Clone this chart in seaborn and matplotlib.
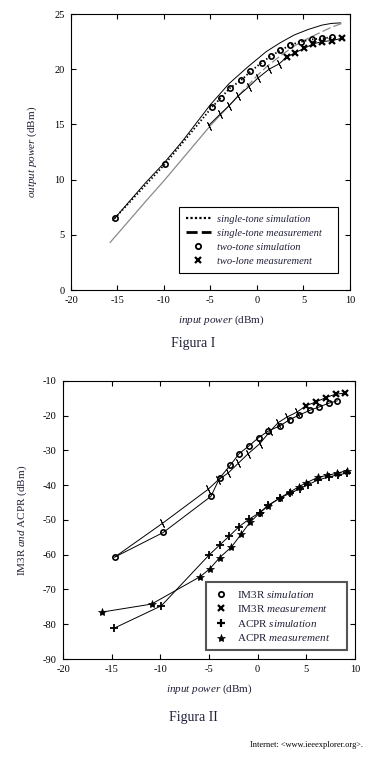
import matplotlib
matplotlib.use('Agg')
import matplotlib.pyplot as plt
from matplotlib.lines import Line2D
import seaborn as sns

# ==============================================================================
# DATOS - Figura I (potencia de salida vs potencia de entrada)
# ==============================================================================
pin_upper = [-15.5, -12, -10, -8, -5, -3, -1, 1, 2.5, 4, 5.5, 7, 8, 9]
pout_upper = [6.3, 9.7, 11.5, 13.5, 16.8, 18.7, 20.2, 21.6, 22.4, 23.1, 23.6, 24.0, 24.15, 24.2]

pin_gray = [-15.8, -12, -10, -8, -6, -5, -4, -3, -2, -1, 0, 1, 2.5, 4, 5.5, 7, 8, 9.3]
pout_gray = [4.3, 8.0, 9.9, 11.9, 13.9, 14.9, 15.8, 16.7, 17.6, 18.5, 19.4, 20.2, 21.2, 22.1, 22.8, 23.4, 23.8, 24.2]
GRAY_DASH_FROM = 8   # desde aquí la curva gris es discontinua

pin_tt_sim = [-15.3, -9.9, -4.8, -3.9, -2.9, -1.7, -0.7, 0.5, 1.5, 2.5, 3.6, 4.7, 5.9, 7.0, 8.1]
pout_tt_sim = [6.5, 11.4, 16.6, 17.4, 18.3, 19.0, 19.8, 20.6, 21.2, 21.7, 22.2, 22.5, 22.7, 22.8, 22.9]

pin_tt_meas = [-5.2, -4.0, -3.0, -2.0, -0.9, 0.1, 1.3, 2.4, 3.2, 4.1, 5.1, 6.05, 7.0, 8.1, 9.1]
pout_tt_meas = [14.9, 15.9, 16.7, 17.6, 18.4, 19.2, 20.0, 20.5, 21.1, 21.5, 21.9, 22.3, 22.5, 22.6, 22.8]
TT_BOLD_FROM = 8

# ==============================================================================
# DATOS - Figura II (IM3R y ACPR)
# ==============================================================================
pin_im3_sim = [-14.7, -9.7, -4.8, -3.9, -2.8, -1.9, -0.9, 0.1, 1.1, 2.3, 3.3, 4.2, 5.4, 6.3, 7.3, 8.2]
im3_sim = [-60.7, -53.6, -43.2, -37.9, -34.2, -30.9, -28.7, -26.3, -24.4, -22.9, -21.1, -19.9, -18.4, -17.5, -16.4, -15.7]

pin_im3_meas = [-14.7, -9.8, -5.1, -4.1, -3.0, -2.0, -1.0, 0.2, 1.3, 2.1, 3.0, 4.0, 5.0, 6.0, 7.0, 8.0, 9.0]
im3_meas = [-60.7, -51.0, -41.2, -38.6, -36.4, -33.7, -31.0, -28.1, -24.4, -22.0, -20.4, -19.0, -17.1, -16.0, -14.8, -13.8, -13.5]
IM3_BOLD_FROM = 12

pin_acpr_sim = [-14.8, -9.9, -5.0, -3.9, -2.9, -1.9, -0.9, 0.2, 1.1, 2.3, 3.3, 4.3, 5.2, 6.2, 7.3, 8.3, 9.2]
acpr_sim = [-81.2, -74.7, -60.1, -57.2, -54.6, -51.9, -49.8, -47.9, -45.7, -43.7, -42.3, -41.1, -39.8, -38.5, -37.6, -37.0, -36.5]

pin_acpr_meas = [-16.0, -10.9, -5.9, -4.9, -3.9, -2.7, -1.7, -0.8, 0.2, 1.1, 2.3, 3.3, 4.25, 5.0, 6.2, 7.1, 8.2, 9.15]
acpr_meas = [-76.5, -74.2, -66.3, -64.0, -60.8, -57.8, -54.1, -50.7, -48.0, -45.9, -43.6, -42.0, -40.4, -39.3, -37.7, -37.2, -36.5, -35.8]

X_TICKS = [-20, -15, -10, -5, 0, 5, 10]

# ==============================================================================
# ESTILO
# ==============================================================================
sns.set_style('ticks')
plt.rcParams['font.family'] = ['Liberation Serif', 'DejaVu Serif']
plt.rcParams['mathtext.fontset'] = 'custom'
plt.rcParams['mathtext.rm'] = 'Liberation Serif'
plt.rcParams['mathtext.it'] = 'Liberation Serif:italic'
plt.rcParams['axes.linewidth'] = 0.8
plt.rcParams['axes.unicode_minus'] = False

LBL_COLOR = '#202038'
TICK = (2, 2, 25)   # marcador de un solo trazo inclinado
LW = 0.7


def line(ax, x, y, **kw):
    sns.lineplot(x=x, y=y, ax=ax, sort=False, estimator=None, **kw)


def style_axes(ax, ylim, yticks):
    ax.set_xlim(-20, 10)
    ax.set_ylim(*ylim)
    ax.set_xticks(X_TICKS)
    ax.set_yticks(yticks)
    ax.tick_params(direction='in', top=True, right=True, length=3.5, width=0.8,
                   labelsize=7.5, pad=4.5, colors='black')
    for s in ax.spines.values():
        s.set_color('black')
        s.set_linewidth(0.8)


fig = plt.figure(figsize=(3.77, 7.63), dpi=100)

# --- Figura I ---
ax1 = fig.add_axes([0.1883, 0.6199, 0.740, 0.3617])
line(ax1, pin_upper, pout_upper, color='black', linewidth=LW)
line(ax1, pin_gray[:GRAY_DASH_FROM + 1], pout_gray[:GRAY_DASH_FROM + 1], color='#8a8a8a', linewidth=0.9)
line(ax1, pin_gray[GRAY_DASH_FROM:], pout_gray[GRAY_DASH_FROM:], color='#8a8a8a', linewidth=0.9,
     linestyle=(0, (7, 2.5)))
line(ax1, pin_tt_sim, pout_tt_sim, color='black', linewidth=1.3, linestyle=(0, (0.8, 1.2)),
     marker='o', markersize=3.8, markerfacecolor='none', markeredgecolor='black', markeredgewidth=1.2)
line(ax1, pin_tt_meas, pout_tt_meas, color='black', linewidth=LW)
line(ax1, pin_tt_meas[:TT_BOLD_FROM], pout_tt_meas[:TT_BOLD_FROM], color='black', linestyle='none',
     marker=TICK, markersize=6.5, markeredgewidth=0.6, markeredgecolor='black')
line(ax1, pin_tt_meas[TT_BOLD_FROM:], pout_tt_meas[TT_BOLD_FROM:], color='black', linestyle='none',
     marker='x', markersize=4, markeredgewidth=1.6, markeredgecolor='black')
style_axes(ax1, (0, 25), [0, 5, 10, 15, 20, 25])
ax1.set_xlabel(r'$\mathit{input\ power}$ (dBm)', fontsize=8, color=LBL_COLOR)
ax1.xaxis.set_label_coords(0.54, -0.085)
ax1.set_ylabel(r'$\mathit{output\ power}$ (dBm)', fontsize=8, color=LBL_COLOR)
ax1.yaxis.set_label_coords(-0.115, 0.5)

h1 = [Line2D([], [], color='black', linewidth=1.6, linestyle=(0, (1, 1))),
      Line2D([], [], color='black', linewidth=2.0, linestyle=(0, (4, 1.5))),
      Line2D([], [], color='black', linestyle='none', marker='o', markersize=3.8,
             markerfacecolor='none', markeredgewidth=1.3),
      Line2D([], [], color='black', linestyle='none', marker='x', markersize=4, markeredgewidth=1.6)]
l1 = ['single-tone simulation', 'single-tone measurement', 'two-tone simulation', 'two-lone measurement']
leg1 = ax1.legend(h1, l1, loc='lower left', bbox_to_anchor=(0.387, 0.062, 0.57, 0.24), mode='expand',
                  borderaxespad=0, prop={'style': 'italic', 'size': 7.6}, frameon=True, fancybox=False,
                  edgecolor='black', framealpha=1, handlelength=2.4, handletextpad=0.6,
                  labelspacing=0.45, borderpad=0.65)
leg1.get_frame().set_linewidth(0.8)
for t in leg1.get_texts():
    t.set_color(LBL_COLOR)

# --- Figura II ---
ax2 = fig.add_axes([0.1671, 0.1363, 0.7745, 0.3644])
line(ax2, pin_im3_sim, im3_sim, color='black', linewidth=LW, marker='o', markersize=3.8,
     markerfacecolor='none', markeredgecolor='black', markeredgewidth=1.2)
line(ax2, pin_im3_meas, im3_meas, color='black', linewidth=LW)
line(ax2, pin_im3_meas[1:IM3_BOLD_FROM], im3_meas[1:IM3_BOLD_FROM], color='black', linestyle='none',
     marker=TICK, markersize=6.5, markeredgewidth=0.6, markeredgecolor='black')
line(ax2, pin_im3_meas[IM3_BOLD_FROM:], im3_meas[IM3_BOLD_FROM:], color='black', linestyle='none',
     marker='x', markersize=4, markeredgewidth=1.6, markeredgecolor='black')
line(ax2, pin_acpr_sim, acpr_sim, color='black', linewidth=LW, marker='+', markersize=5.5,
     markeredgewidth=1.3, markeredgecolor='black')
line(ax2, pin_acpr_meas, acpr_meas, color='black', linewidth=LW, marker='*', markersize=6,
     markeredgewidth=0.5, markeredgecolor='black', markerfacecolor='black')
style_axes(ax2, (-90, -10), list(range(-90, 0, 10)))
ax2.set_xlabel(r'$\mathit{input\ power}$ (dBm)', fontsize=8, color=LBL_COLOR)
ax2.xaxis.set_label_coords(0.5, -0.085)
ax2.set_ylabel(r'IM3R $\mathit{and}$ ACPR (dBm)', fontsize=8, color=LBL_COLOR)
ax2.yaxis.set_label_coords(-0.116, 0.5)

h2 = [Line2D([], [], color='black', linestyle='none', marker='o', markersize=3.8,
             markerfacecolor='none', markeredgewidth=1.3),
      Line2D([], [], color='black', linestyle='none', marker='x', markersize=4, markeredgewidth=1.6),
      Line2D([], [], color='black', linestyle='none', marker='+', markersize=5.5, markeredgewidth=1.6),
      Line2D([], [], color='black', linestyle='none', marker='*', markersize=6, markeredgewidth=0.5)]
l2 = [r'IM3R $\mathit{simulation}$', r'IM3R $\mathit{measurement}$',
      r'ACPR $\mathit{simulation}$', r'ACPR $\mathit{measurement}$']
leg2 = ax2.legend(h2, l2, loc='lower left', bbox_to_anchor=(0.49, 0.032, 0.483, 0.24), mode='expand',
                  borderaxespad=0, prop={'size': 8}, frameon=True, fancybox=False, edgecolor='#555555',
                  framealpha=1, handlelength=1.4, handletextpad=0.8, labelspacing=0.32,
                  borderpad=0.6)
leg2.get_frame().set_linewidth(1.5)
for t in leg2.get_texts():
    t.set_color(LBL_COLOR)

# --- Pies de figura ---
fig.text(193 / 377, 1 - 343 / 763, 'Figura I', ha='center', va='center', fontsize=10, color=LBL_COLOR)
fig.text(193 / 377, 1 - 718 / 763, 'Figura II', ha='center', va='center', fontsize=10, color=LBL_COLOR)
fig.text(363 / 377, 1 - 745 / 763, 'Internet: <www.ieeexplorer.org>.', ha='right', va='center',
         fontsize=6, color='black')

fig.savefig('out.png', dpi=100)
